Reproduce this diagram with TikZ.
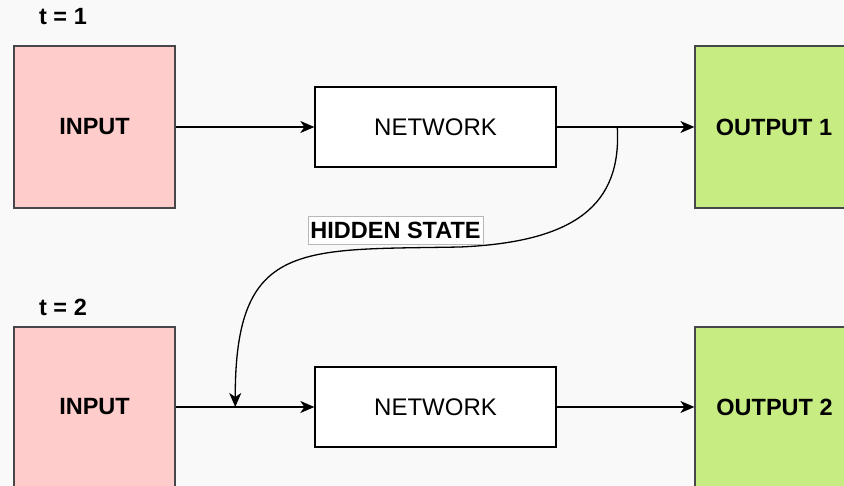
\documentclass[tikz,border=0pt]{standalone}
\usepackage{fontspec}
\setmainfont{Liberation Sans}
\usetikzlibrary{arrows.meta,calc}
\definecolor{bg}{HTML}{F9F9F9}
\definecolor{pinkfill}{HTML}{FFCCCC}
\definecolor{greenfill}{HTML}{C6EC82}
\definecolor{boxline}{HTML}{45474A}
\definecolor{lblline}{HTML}{B8B8B8}
\tikzset{
  bigbold/.style={font=\bfseries\fontsize{23.5}{26}\selectfont},
  inbox/.style={draw=boxline, line width=1.2pt, fill=pinkfill, minimum width=161pt, minimum height=162pt, inner sep=0pt, bigbold},
  outbox/.style={draw=boxline, line width=1.2pt, fill=greenfill, minimum width=161pt, minimum height=162pt, inner sep=0pt, bigbold},
  netbox/.style={draw=black, line width=1.3pt, fill=white, minimum width=241pt, minimum height=80pt, inner sep=0pt, font=\fontsize{24}{26}\selectfont},
  tlabel/.style={bigbold, inner sep=0pt},
  hlabel/.style={draw=lblline, line width=0.6pt, fill=white, minimum width=175pt, minimum height=28pt, inner sep=0pt, bigbold},
  conn/.style={line width=1.3pt, -{Stealth[length=14pt,width=12pt,inset=4pt]}},
}
\begin{document}
\begin{tikzpicture}[x=1pt,y=-1pt]
\fill[bg] (0,0) rectangle (844,486);
\useasboundingbox (0,0) rectangle (844,486);
\node[tlabel] (t1) at (63,17) {t = 1};
\node[tlabel] (t2) at (63,307) {t = 2};
\node[inbox] (in1) at (94.5,127) {INPUT};
\node[netbox] (net1) at (435.5,127) {NETWORK};
\node[outbox] (out1) at (775.5,127) {\hspace*{-3pt}OUTPUT 1};
\node[inbox] (in2) at (94.5,408) {};
\node[bigbold] (in2t) at (94.5,407) {INPUT};
\node[netbox] (net2) at (435.5,407) {NETWORK};
\node[outbox] (out2) at (775.5,408) {};
\node[bigbold] (out2t) at (774.5,407) {OUTPUT 2};
\draw[conn] (in1.east) -- (net1.west);
\draw[conn] (net1.east) -- (out1.west);
\draw[conn] (in2.east |- net2.west) -- (net2.west);
\draw[conn] (net2.east) -- (out2.west |- net2.east);
\coordinate (hs) at ($(net1.east)!0.44!(out1.west)$);
\coordinate (he) at ($(in2.east |- net2.west)!0.43!(net2.west)$);
\coordinate (hm) at (460,247);
\draw[line width=1.3pt] (hs) .. controls (622,205) and (575,242) .. (hm);
\draw[conn] (hm) .. controls (300,250) and (235,240) .. (he);
\node[hlabel] (hl) at (395.5,230) {HIDDEN STATE};
\end{tikzpicture}
\end{document}
